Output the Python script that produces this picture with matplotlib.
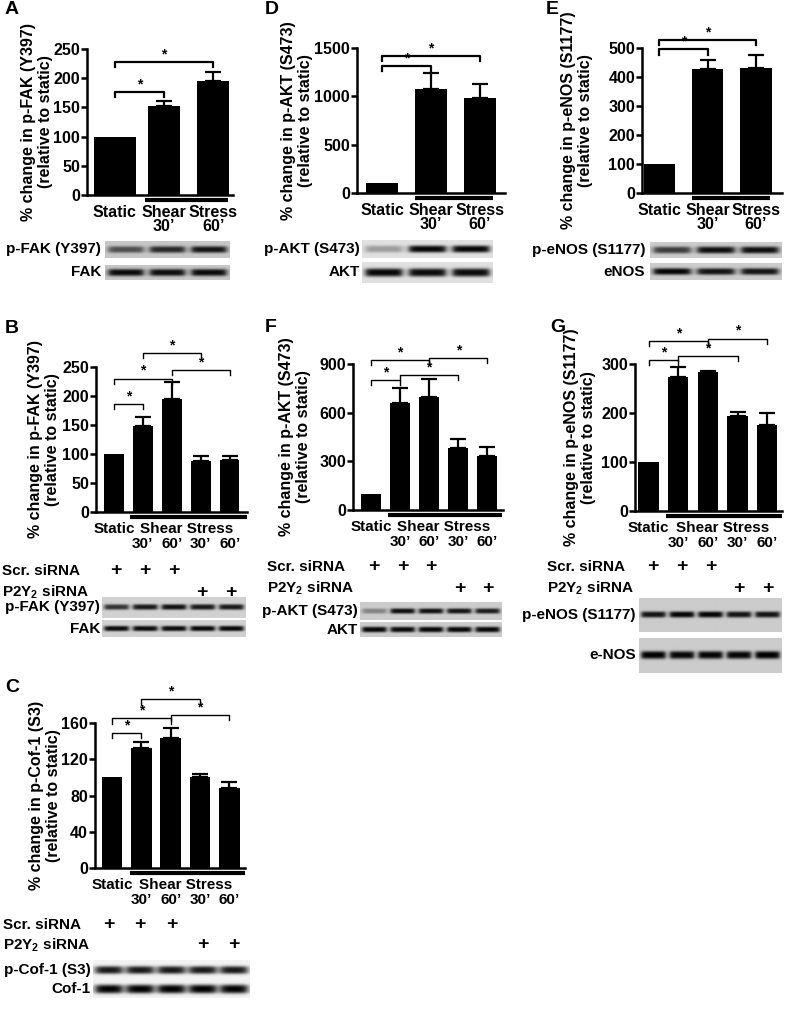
import numpy as np
import matplotlib
matplotlib.use("Agg")
import matplotlib.pyplot as plt
import matplotlib.transforms as mtransforms

plt.rcParams['font.family'] = ['Liberation Sans', 'DejaVu Sans']
plt.rcParams['font.weight'] = 'bold'
plt.rcParams['axes.labelweight'] = 'bold'
plt.rcParams['mathtext.fontset'] = 'custom'
plt.rcParams['mathtext.rm'] = 'Liberation Sans:bold'
plt.rcParams['mathtext.bf'] = 'Liberation Sans:bold'
plt.rcParams['mathtext.default'] = 'bf'

W, H = 787, 1010

# ---- data ----
a_means = [100, 152, 196]
a_err = [0, 9, 15]
a_sig = [(0, 1, 176), (0, 2, 228)]

d_means = [100, 1075, 980]
d_err = [0, 165, 150]
d_sig = [(0, 1, 1313), (0, 2, 1417)]

e_means = [100, 428, 432]
e_err = [0, 32, 45]
e_sig = [(0, 1, 495), (0, 2, 527)]

b_means = [100, 148, 195, 88, 89]
b_err = [0, 15, 30, 8, 8]
b_sig = [(0, 1, 186), (0, 2, 230), (1, 3, 274), (2, 4, 245)]

f_means = [100, 660, 695, 385, 330]
f_err = [0, 95, 110, 55, 60]
f_sig = [(0, 1, 802), (0, 2, 926), (1, 3, 833), (2, 4, 936)]

g_means = [100, 273, 284, 193, 175]
g_err = [0, 20, 2, 10, 24]
g_sig = [(0, 1, 308), (0, 2, 347), (1, 3, 316), (2, 4, 352)]

c_means = [100, 132, 144, 100, 88]
c_err = [0, 7, 10, 4, 7]
c_sig = [(0, 1, 149), (0, 2, 165), (1, 3, 186), (2, 4, 169)]

time_labels_3 = ["30\u2019", "60\u2019"]
time_labels_5 = ["30\u2019", "60\u2019", "30\u2019", "60\u2019"]
scr_sirna = [1, 1, 1, 0, 0]
p2y2_sirna = [0, 0, 0, 1, 1]

# band darkness per lane (western blots)
a_blot = {"p-FAK (Y397)": [0.6, 0.8, 0.9], "FAK": [0.95, 0.93, 0.95]}
d_blot = {"p-AKT (S473)": [0.3, 0.97, 0.97], "AKT": [0.97, 0.95, 0.95]}
e_blot = {"p-eNOS (S1177)": [0.7, 0.93, 0.93], "eNOS": [0.97, 0.9, 0.9]}
b_blot = {"p-FAK (Y397)": [0.75, 0.88, 0.92, 0.88, 0.88], "FAK": [0.95, 0.95, 0.95, 0.97, 0.97]}
f_blot = {"p-AKT (S473)": [0.35, 0.93, 0.92, 0.9, 0.86], "AKT": [0.97, 0.95, 0.97, 0.97, 0.97]}
g_blot = {"p-eNOS (S1177)": [0.9, 0.98, 0.98, 0.9, 0.9], "e-NOS": [1.0, 0.97, 0.98, 0.97, 1.0]}
c_blot = {"p-Cof-1 (S3)": [0.9, 0.9, 0.9, 0.9, 0.9], "Cof-1": [1.0, 1.0, 1.0, 1.0, 1.0]}

fig = plt.figure(figsize=(W / 100, H / 100), dpi=100)


def px_axes(l, t, r, b):
    return fig.add_axes([l / W, 1 - b / H, (r - l) / W, (b - t) / H])


def px_text(x, y, s, **kw):
    fig.text(x / W, 1 - y / H, s, **kw)


def bar_panel(box, means, err, sig, xlim, ylim, yticks, ylabel, label_off,
              width, shear, times, bracket_lw, catsize):
    ax = px_axes(*box)
    x = np.arange(len(means))
    ax.bar(x, means, width=width, color='black', zorder=2)
    ax.errorbar(x[1:], means[1:], yerr=[np.zeros(len(x) - 1), err[1:]], fmt='none',
                ecolor='black', elinewidth=1.6, capsize=6, capthick=1.6, zorder=3)
    ax.set_xlim(*xlim)
    ax.set_ylim(*ylim)
    ax.set_yticks(yticks)
    ax.set_xticks([])
    for s in ['top', 'right']:
        ax.spines[s].set_visible(False)
    for s in ['left', 'bottom']:
        ax.spines[s].set_linewidth(1.8)
    ax.tick_params(axis='y', labelsize=11.5, width=1.8, length=4, pad=1)
    ax.set_ylabel(ylabel, fontsize=11.5, va='center', linespacing=1.2)
    axw = box[2] - box[0]
    ax.yaxis.set_label_coords(-label_off / axw, 0.5)

    trans = mtransforms.blended_transform_factory(ax.transData, ax.transAxes)
    # shear stress underline
    ax.plot(shear, [-0.035, -0.035], transform=trans, color='black', lw=3,
            clip_on=False, solid_capstyle='butt')
    # category labels
    ax.annotate("Static", (0, 0), xycoords=trans, xytext=(0, -12.5),
                textcoords='offset points', ha='center', va='center', fontsize=catsize)
    if len(means) == 3:
        ax.annotate("Shear", (1, 0), xycoords=trans, xytext=(0, -12.5),
                    textcoords='offset points', ha='center', va='center', fontsize=catsize)
        ax.annotate("Stress", (2, 0), xycoords=trans, xytext=(0, -12.5),
                    textcoords='offset points', ha='center', va='center', fontsize=catsize)
    else:
        ax.annotate("Shear Stress", (2.5, 0), xycoords=trans, xytext=(0, -12.5),
                    textcoords='offset points', ha='center', va='center', fontsize=catsize)
    for i, t in enumerate(times):
        ax.annotate(t, (i + 1, 0), xycoords=trans, xytext=(0, -23),
                    textcoords='offset points', ha='center', va='center', fontsize=catsize)

    # significance brackets
    tick = 0.035 * ylim[1]
    for x1, x2, y in sig:
        ax.plot([x1, x1, x2, x2], [y - tick, y, y, y - tick], color='black',
                lw=bracket_lw, clip_on=False, zorder=4)
        ax.text((x1 + x2) / 2, y + 0.005 * ylim[1], "*", ha='center', va='bottom',
                fontsize=10, clip_on=False)
    return ax


def blot(box, lanes, sigma=0.16, bg=0.8, blur=0.04):
    ax = px_axes(*box)
    n = len(lanes)
    xs = np.linspace(0, n, 300)
    ys = np.linspace(0, 1, 80)
    xx, yy = np.meshgrid(xs, ys)
    dark = np.zeros_like(xx)
    for i, v in enumerate(lanes):
        hprof = 1 / (1 + np.exp(-(0.42 - np.abs(xx - (i + 0.5))) / blur))
        vprof = np.exp(-(np.abs(yy - 0.5) / sigma) ** 3)
        dark += v * hprof * vprof
    img = bg * (1 - np.clip(dark, 0, 1))
    ax.imshow(img, cmap='gray', vmin=0, vmax=1, aspect='auto',
              extent=[0, n, 0, 1], interpolation='bilinear')
    ax.set_xticks([])
    ax.set_yticks([])
    for s in ax.spines.values():
        s.set_visible(False)
    return ax


def blot_label(x, y, s):
    px_text(x, y, s, ha='right', va='center', fontsize=11)


def sirna_rows(x_left, y1, y2, lane_x0, lane_x1):
    px_text(x_left, y1, "Scr. siRNA", ha='left', va='center', fontsize=11)
    px_text(x_left, y2, "P2Y$_2$ siRNA", ha='left', va='center', fontsize=11)
    n = len(scr_sirna)
    step = (lane_x1 - lane_x0) / n
    for i in range(n):
        cx = lane_x0 + step * (i + 0.5)
        if scr_sirna[i]:
            px_text(cx, y1, "+", ha='center', va='center', fontsize=14)
        if p2y2_sirna[i]:
            px_text(cx, y2, "+", ha='center', va='center', fontsize=14)


# ---- panel A ----
bar_panel((87, 49, 233, 195), a_means, a_err, a_sig, (-0.56, 2.4), (0, 250),
          [0, 50, 100, 150, 200, 250], "% change in p-FAK (Y397)\n(relative to static)",
          50, [0.85, 0.65, 0.65], (0.62, 2.3), time_labels_3, 1.6, 11.5)
(k1, v1), (k2, v2) = a_blot.items()
blot((105, 241, 230, 258), v1, sigma=0.2, bg=0.78)
blot((105, 265, 230, 280), v2, sigma=0.24, bg=0.78)
blot_label(101, 249, k1)
blot_label(101, 272, k2)

# ---- panel D ----
bar_panel((357, 48, 505, 193), d_means, d_err, d_sig, (-0.51, 2.51), (0, 1500),
          [0, 500, 1000, 1500], "% change in p-AKT (S473)\n(relative to static)",
          60, 0.65, (0.67, 2.27), time_labels_3, 1.6, 11.5)
(k1, v1), (k2, v2) = d_blot.items()
blot((362, 240, 493, 258), v1, sigma=0.2, bg=0.88)
blot((362, 262, 493, 283), v2, sigma=0.2, bg=0.88)
blot_label(360, 249, k1)
blot_label(360, 272, k2)

# ---- panel E ----
bar_panel((642, 48, 782, 193), e_means, e_err, e_sig, (-0.36, 2.54), (0, 500),
          [0, 100, 200, 300, 400, 500], "% change in p-eNOS (S1177)\n(relative to static)",
          65, 0.65, (0.67, 2.3), time_labels_3, 1.6, 11.5)
(k1, v1), (k2, v2) = e_blot.items()
blot((650, 242, 782, 258), v1, sigma=0.22, bg=0.8)
blot((650, 263, 782, 280), v2, sigma=0.2, bg=0.8)
blot_label(645, 250, k1)
blot_label(645, 272, k2)

# ---- panel B ----
bar_panel((96, 367, 247, 512), b_means, b_err, b_sig, (-0.62, 4.6), (0, 250),
          [0, 50, 100, 150, 200, 250], "% change in p-FAK (Y397)\n(relative to static)",
          52, 0.68, (0.55, 4.6), time_labels_5, 1.0, 11)
sirna_rows(2, 571, 592, 102, 245)
(k1, v1), (k2, v2) = b_blot.items()
blot((102, 597, 245, 618), v1, sigma=0.13, bg=0.82)
blot((102, 620, 245, 637), v2, sigma=0.16, bg=0.82)
blot_label(100, 607, k1)
blot_label(100, 629, k2)

# ---- panel F ----
bar_panel((353, 364, 503, 510), f_means, f_err, f_sig, (-0.62, 4.54), (0, 900),
          [0, 300, 600, 900], "% change in p-AKT (S473)\n(relative to static)",
          58, 0.69, (0.6, 4.52), time_labels_5, 1.0, 11)
sirna_rows(267, 567, 588, 360, 502)
(k1, v1), (k2, v2) = f_blot.items()
blot((360, 602, 502, 620), v1, sigma=0.15, bg=0.8)
blot((360, 622, 502, 637), v2, sigma=0.19, bg=0.8)
blot_label(358, 611, k1)
blot_label(358, 630, k2)

# ---- panel G ----
bar_panel((635, 364, 782, 511), g_means, g_err, g_sig, (-0.46, 4.5), (0, 300),
          [0, 100, 200, 300], "% change in p-eNOS (S1177)\n(relative to static)",
          55, 0.69, (0.6, 4.5), time_labels_5, 1.0, 11)
sirna_rows(547, 567, 588, 639, 782)
(k1, v1), (k2, v2) = g_blot.items()
blot((639, 598, 782, 632), v1, sigma=0.09, bg=0.8)
blot((639, 638, 782, 673), v2, sigma=0.11, bg=0.8)
blot_label(636, 615, k1)
blot_label(636, 655, k2)

# ---- panel C ----
bar_panel((95, 723, 245, 868), c_means, c_err, c_sig, (-0.58, 4.53), (0, 160),
          [0, 40, 80, 120, 160], "% change in p-Cof-1 (S3)\n(relative to static)",
          50, 0.7, (0.61, 4.53), time_labels_5, 1.0, 11)
sirna_rows(3, 925, 945, 93, 250)
(k1, v1), (k2, v2) = c_blot.items()
blot((93, 960, 250, 980), v1, sigma=0.2, bg=0.95, blur=0.07)
blot((93, 980, 250, 998), v2, sigma=0.25, bg=0.95, blur=0.07)
blot_label(91, 970, k1)
blot_label(91, 989, k2)

# panel letters
for letter, x, y in [("A", 12, 10), ("D", 272, 10), ("E", 552, 10),
                     ("B", 12, 328), ("F", 271, 327), ("G", 558, 327), ("C", 12, 688)]:
    px_text(x, y, letter, ha='center', va='center', fontsize=14)

fig.savefig("out.png", dpi=100)
